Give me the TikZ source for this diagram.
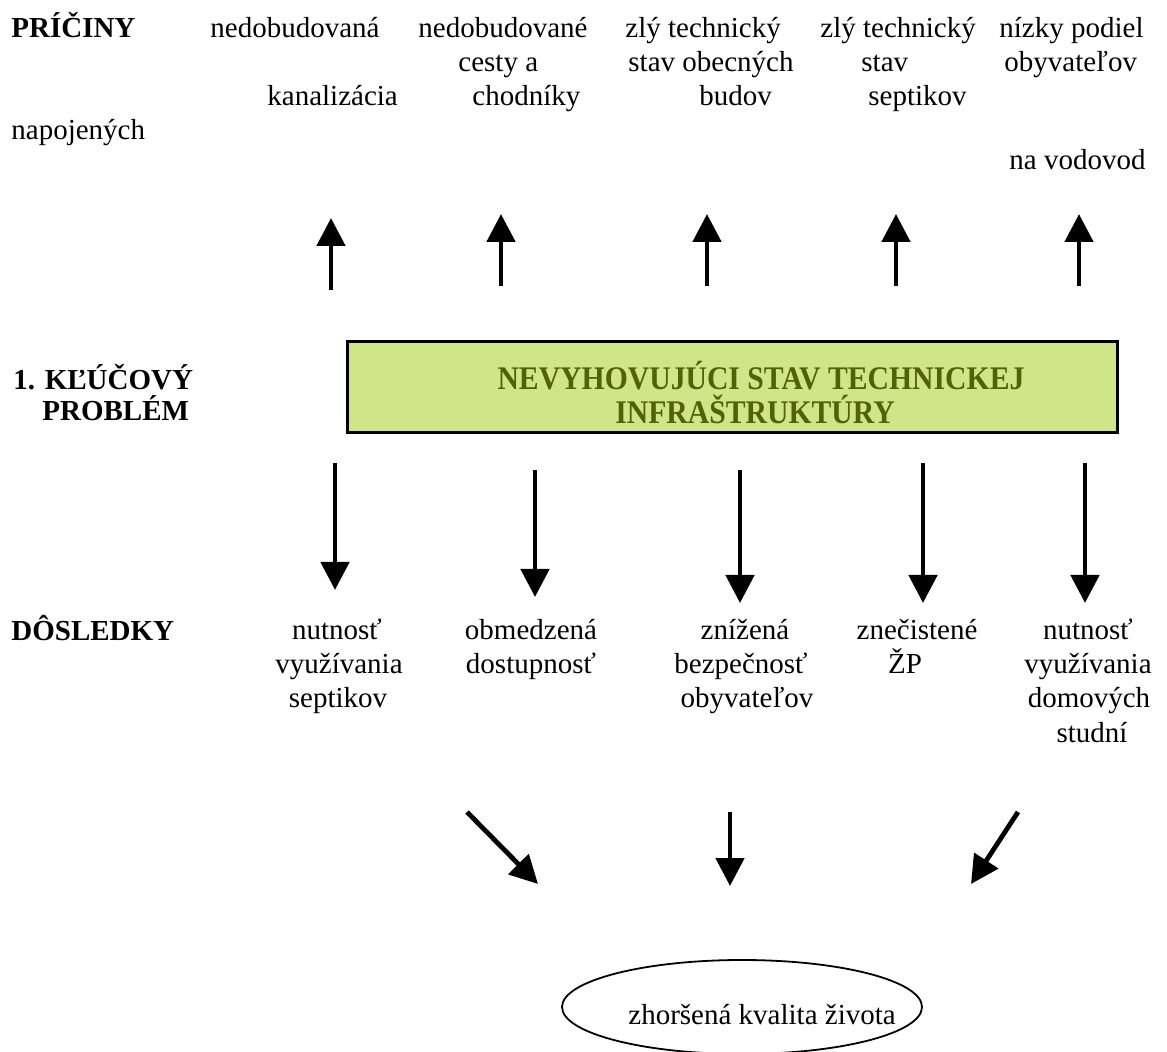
\documentclass[tikz,border=0pt]{standalone}
\usepackage{fontspec}
\setmainfont{Liberation Serif}
\newfontfamily\condserif[FakeStretch=0.9]{Liberation Serif}
\usetikzlibrary{arrows.meta,shapes.geometric}
\definecolor{boxgreen}{RGB}{208,229,135}
\definecolor{olivetext}{RGB}{79,98,8}

\begin{document}
\begin{tikzpicture}[x=0.5pt,y=-0.5pt]
  \tikzstyle{txt}=[inner sep=0pt,font=\fontsize{14.5}{17}\selectfont]
  \tikzstyle{hdtxt}=[txt,font=\fontsize{14.5}{17}\selectfont\bfseries]
  \tikzstyle{boxtxt}=[inner sep=0pt,text=olivetext,font=\condserif\fontsize{16.5}{16}\selectfont\bfseries]
  \tikzstyle{arr}=[line width=2.4pt,-{Triangle[width=14pt,length=14pt]}]
  \useasboundingbox (0,0) rectangle (1167,1052);

  % causes
  \node[hdtxt,anchor=base west] (pr) at (11,38) {PRÍČINY};
  \node[txt,anchor=base west] (c1a) at (210,38) {nedobudovaná};
  \node[txt,anchor=base west] (c1b) at (267,106) {kanalizácia};
  \node[txt,anchor=base west] (c2a) at (418,38) {nedobudované};
  \node[txt,anchor=base west] (c2b) at (458,72) {cesty a};
  \node[txt,anchor=base west] (c2c) at (472,106) {chodníky};
  \node[txt,anchor=base west] (c3a) at (625,38) {zlý technický};
  \node[txt,anchor=base west] (c3b) at (628,72) {stav obecných};
  \node[txt,anchor=base west] (c3c) at (699,106) {budov};
  \node[txt,anchor=base west] (c4a) at (820,38) {zlý technický};
  \node[txt,anchor=base west] (c4b) at (861,72) {stav};
  \node[txt,anchor=base west] (c4c) at (868,106) {septikov};
  \node[txt,anchor=base west] (c5a) at (999,38) {nízky podiel};
  \node[txt,anchor=base west] (c5b) at (1004,72) {obyvateľov};
  \node[txt,anchor=base west] (c5c) at (11,140) {napojených};
  \node[txt,anchor=base west] (c5d) at (1009,170) {na vodovod};

  \coordinate (u1) at (331,290); \coordinate (v1) at (331,218);
  \coordinate (u2) at (501,286); \coordinate (v2) at (501,214);
  \coordinate (u3) at (707,286); \coordinate (v3) at (707,214);
  \coordinate (u4) at (896,286); \coordinate (v4) at (896,214);
  \coordinate (u5) at (1079,286); \coordinate (v5) at (1079,214);
  \draw[arr] (u1) -- (v1);
  \draw[arr] (u2) -- (v2);
  \draw[arr] (u3) -- (v3);
  \draw[arr] (u4) -- (v4);
  \draw[arr] (u5) -- (v5);

  % key problem
  \node[hdtxt,anchor=base west] (kl1) at (13,390) {1. KĽÚČOVÝ};
  \node[hdtxt,anchor=base west] (kl2) at (42,421) {PROBLÉM};
  \node[draw,fill=boxgreen,line width=1.4pt,anchor=north west,
        minimum width=385pt,minimum height=45.5pt,inner sep=0pt] (kp) at (346,340) {};
  \node[boxtxt,anchor=base] (kp1) at (761,390) {NEVYHOVUJÚCI STAV TECHNICKEJ};
  \node[boxtxt,anchor=base] (kp2) at (755,424) {INFRAŠTRUKTÚRY};

  \coordinate (p1) at (335,463); \coordinate (q1) at (335,590);
  \coordinate (p2) at (535,470); \coordinate (q2) at (535,597);
  \coordinate (p3) at (740,470); \coordinate (q3) at (740,603);
  \coordinate (p4) at (923,463); \coordinate (q4) at (923,603);
  \coordinate (p5) at (1085,463); \coordinate (q5) at (1085,603);
  \draw[arr] (p1) -- (q1);
  \draw[arr] (p2) -- (q2);
  \draw[arr] (p3) -- (q3);
  \draw[arr] (p4) -- (q4);
  \draw[arr] (p5) -- (q5);

  % consequences
  \node[hdtxt,anchor=base west] (ds) at (11,641) {DÔSLEDKY};
  \node[txt,anchor=base] (d1a) at (337,640) {nutnosť};
  \node[txt,anchor=base] (d1b) at (339,674) {využívania};
  \node[txt,anchor=base] (d1c) at (338,708) {septikov};
  \node[txt,anchor=base] (d2a) at (531,640) {obmedzená};
  \node[txt,anchor=base] (d2b) at (531,674) {dostupnosť};
  \node[txt,anchor=base] (d3a) at (745,640) {znížená};
  \node[txt,anchor=base] (d3b) at (741,674) {bezpečnosť};
  \node[txt,anchor=base] (d3c) at (747,708) {obyvateľov};
  \node[txt,anchor=base] (d4a) at (917,640) {znečistené};
  \node[txt,anchor=base] (d4b) at (905,674) {ŽP};
  \node[txt,anchor=base] (d5a) at (1088,640) {nutnosť};
  \node[txt,anchor=base] (d5b) at (1088,674) {využívania};
  \node[txt,anchor=base] (d5c) at (1089,708) {domových};
  \node[txt,anchor=base] (d5d) at (1092,742) {studní};

  \coordinate (s1) at (467,812); \coordinate (t1) at (538,884);
  \coordinate (s2) at (730,812); \coordinate (t2) at (730,886);
  \coordinate (s3) at (1018,812); \coordinate (t3) at (971,884);
  \draw[arr] (s1) -- (t1);
  \draw[arr] (s2) -- (t2);
  \draw[arr] (s3) -- (t3);

  % result
  \node[draw,ellipse,line width=0.9pt,minimum width=180pt,minimum height=47pt,inner sep=0pt] (zk) at (742,1007) {};
  \node[txt,anchor=base west] (zkt) at (628,1024) {zhoršená kvalita života};
\end{tikzpicture}
\end{document}
